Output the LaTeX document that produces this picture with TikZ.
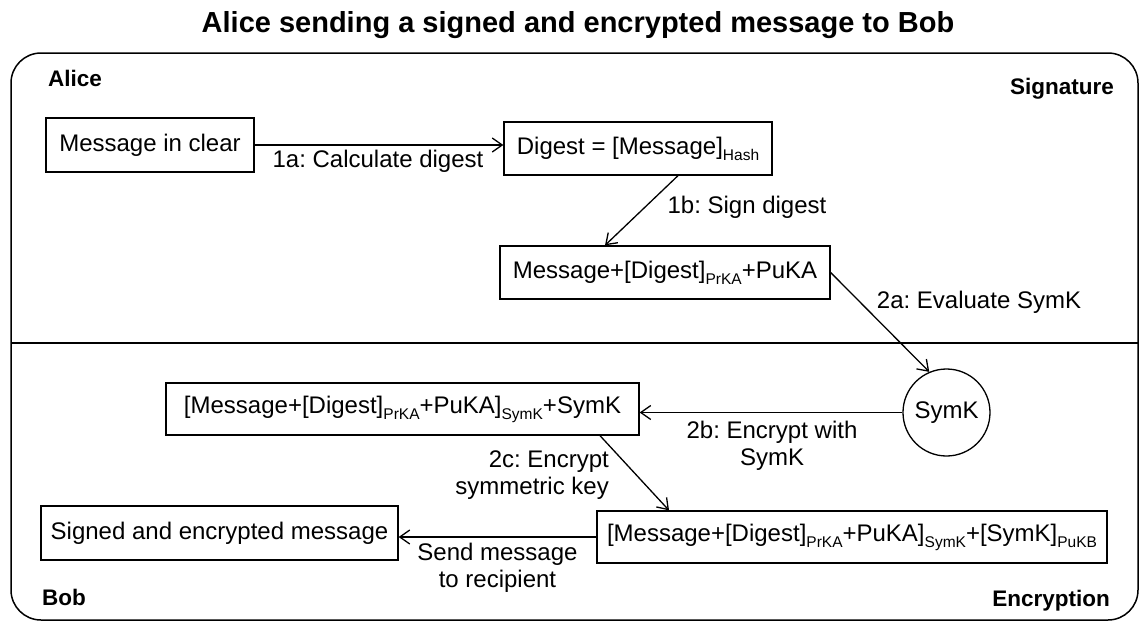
\documentclass[tikz,border=0pt]{standalone}
\usepackage{fontspec}
\setmainfont{Liberation Sans}
\usetikzlibrary{arrows.meta}
\frenchspacing
% subscript set lower and smaller than the main text
\newcommand{\lowsub}[1]{\raisebox{-6pt}{\fontsize{15.5}{16}\selectfont #1}}
\begin{document}
\begin{tikzpicture}[x=1pt,y=-1pt,
  txt/.style={font=\fontsize{24}{27}\selectfont, inner sep=0pt},
  lbl/.style={font=\fontsize{22.5}{25}\selectfont\bfseries, inner sep=0pt},
  box/.style={draw, line width=1.3pt, inner sep=0pt,
    font=\fontsize{24}{27}\selectfont},
  flow/.style={line width=1.3pt, -{Straight Barb[length=10pt,width=14pt,line width=1.3pt]}}]
\useasboundingbox (0,0) rectangle (1144,624);

% title
\node[font=\fontsize{29}{32}\selectfont\bfseries, inner sep=0pt, anchor=base]
  (title) at (578,32) {Alice sending a signed and encrypted message to Bob};

% frame with the two swimlanes
\draw[line width=1.5pt, rounded corners=30pt] (11,53) rectangle (1138,620);
\coordinate (laneL) at (11,343);
\coordinate (laneR) at (1138,343);
\draw[line width=1.3pt] (laneL) -- (laneR);

\node[lbl, anchor=base west] (alice) at (48,86) {Alice};
\node[lbl, anchor=base east] (sig) at (1114,94) {Signature};
\node[lbl, anchor=base west] (bob) at (42,605) {Bob};
\node[lbl, anchor=base east] (encr) at (1110,606) {Encryption};

% states
\node[box, minimum width=208pt, minimum height=54pt] (msg) at (150,145) {Message in clear};
\node[box, minimum width=268pt, minimum height=53pt] (digest) at (638,148.5)
  {Digest = [Message]\lowsub{Hash}};
\node[box, minimum width=330pt, minimum height=53pt] (signed) at (665,272.5)
  {Message+[Digest]\lowsub{PrKA}+PuKA};
\node[draw, circle, line width=1.3pt, minimum size=87pt, inner sep=0pt,
  font=\fontsize{24}{27}\selectfont] (symk) at (946.5,412.5) {SymK};
\node[box, minimum width=473pt, minimum height=52pt] (encA) at (402.5,409)
  {[Message+[Digest]\lowsub{PrKA}+PuKA]\lowsub{SymK}+SymK};
\node[box, minimum width=510pt, minimum height=52pt] (encB) at (852,537)
  {[Message+[Digest]\lowsub{PrKA}+PuKA]\lowsub{SymK}+[SymK]\lowsub{PuKB}};
\node[box, minimum width=357pt, minimum height=54pt] (final) at (219.5,533)
  {Signed and encrypted message};

% transitions
\draw[flow] (msg.east) -- (msg.east -| digest.west);
\node[txt, anchor=base] (t1a) at (378,167) {1a: Calculate digest};

\draw[flow] ([xshift=40pt]digest.south) -- ([xshift=-60pt]signed.north);
\node[txt, anchor=base] (t1b) at (747,213) {1b: Sign digest};

\draw[flow] (signed.east) -- (symk.113);
\node[txt, anchor=base] (t2a) at (979,308) {2a: Evaluate SymK};

\draw[flow] (symk.west) -- (symk.west -| encA.east);
\node[txt, align=center, anchor=north] (t2b) at (772,420.5) {2b: Encrypt with\\SymK};

\draw[flow] ([xshift=197.5pt]encA.south) -- ([xshift=-183pt]encB.north);
\node[txt, align=right, anchor=north east] (t2c) at (609,451) {2c: Encrypt\\symmetric key};

\draw[flow] (encB.west) -- (encB.west -| final.east);
\node[txt, align=center, anchor=north] (tsend) at (497.5,542.5) {Send message\\to recipient};
\end{tikzpicture}
\end{document}
